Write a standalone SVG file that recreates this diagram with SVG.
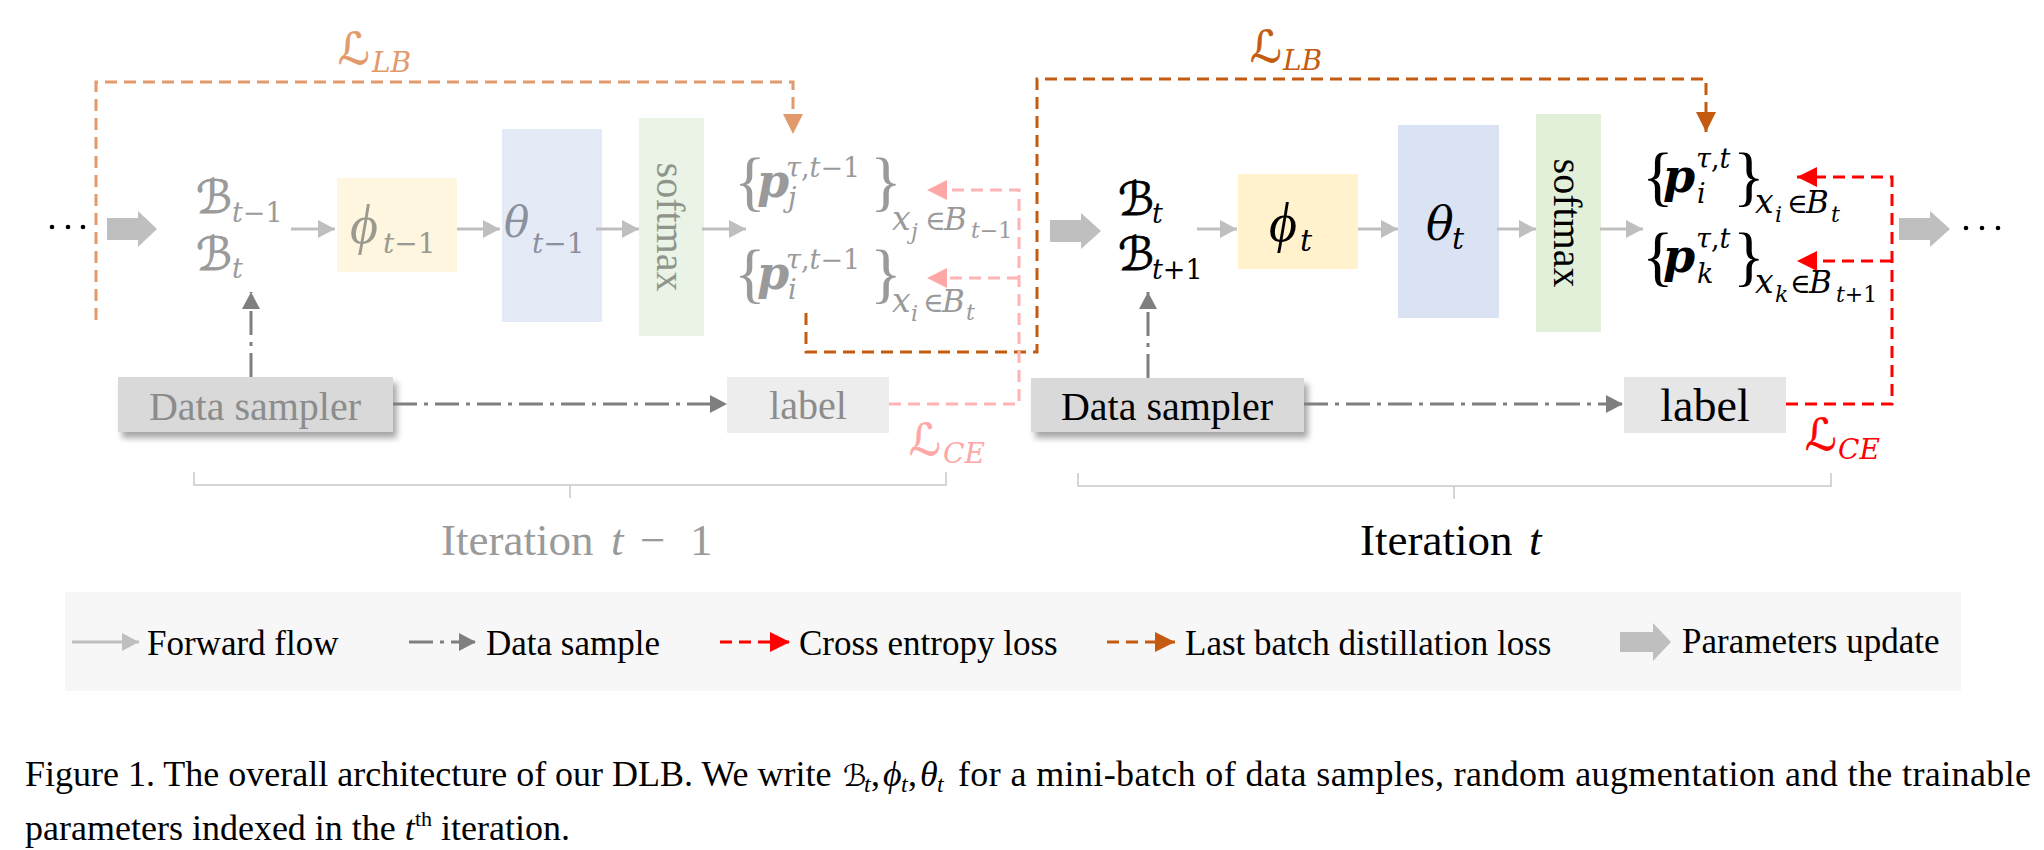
<svg xmlns="http://www.w3.org/2000/svg" width="2044" height="850" viewBox="0 0 2044 850">
<defs>
<style>
.t{font-family:"Liberation Serif","Times New Roman",serif}
.m{font-family:"DejaVu Serif","DejaVu Sans",serif;font-style:italic}
.ti{font-family:"Liberation Serif","Times New Roman",serif;font-style:italic}
.u{font-style:normal}
.br{font-family:"Liberation Serif","Times New Roman",serif;font-size:66px}
.sc{font-family:"DejaVu Sans","DejaVu Serif",sans-serif}
.fw{stroke:#BFBFBF;stroke-width:3;fill:none}
.ds{stroke:#7F7F7F;stroke-width:3;fill:none;stroke-dasharray:24 7 4 7}
.ce{stroke:#FF0000;stroke-width:3;fill:none;stroke-dasharray:12 7}
.ceL{stroke:#FFB3B3;stroke-width:3;fill:none;stroke-dasharray:12 7}
.lb{stroke:#C55A11;stroke-width:3;fill:none;stroke-dasharray:12 7}
.lbL{stroke:#E39A6B;stroke-width:3;fill:none;stroke-dasharray:12 7}
.big{fill:#BFBFBF}
.gr{fill:#9A9A9A}
.gb{fill:#8C8C8C}
.k{fill:#000}
</style>
<marker id="aFw" markerUnits="userSpaceOnUse" markerWidth="18" markerHeight="18" refX="17" refY="9" orient="auto"><path d="M0,0 L17,9 L0,18 Z" fill="#BFBFBF"/></marker>
<marker id="aDs" markerUnits="userSpaceOnUse" markerWidth="18" markerHeight="18" refX="17" refY="9" orient="auto"><path d="M0,0 L17,9 L0,18 Z" fill="#7F7F7F"/></marker>
<marker id="aCe" markerUnits="userSpaceOnUse" markerWidth="21" markerHeight="20" refX="20" refY="10" orient="auto"><path d="M0,0 L20,10 L0,20 Z" fill="#FF0000"/></marker>
<marker id="aCeL" markerUnits="userSpaceOnUse" markerWidth="21" markerHeight="20" refX="20" refY="10" orient="auto"><path d="M0,0 L20,10 L0,20 Z" fill="#FFA6A6"/></marker>
<marker id="aLb" markerUnits="userSpaceOnUse" markerWidth="21" markerHeight="20" refX="20" refY="10" orient="auto"><path d="M0,0 L20,10 L0,20 Z" fill="#C55A11"/></marker>
<marker id="aLbL" markerUnits="userSpaceOnUse" markerWidth="21" markerHeight="20" refX="20" refY="10" orient="auto"><path d="M0,0 L20,10 L0,20 Z" fill="#E39A6B"/></marker>
<filter id="sh" x="-10%" y="-30%" width="125%" height="180%"><feDropShadow dx="4" dy="6" stdDeviation="3" flood-color="#000" flood-opacity="0.35"/></filter>
</defs>
<rect width="2044" height="850" fill="#fff"/>

<!-- dots -->
<g id="dots-left"><circle cx="52" cy="227" r="2.3"/><circle cx="68" cy="227" r="2.3"/><circle cx="83" cy="227" r="2.3"/></g>
<g id="dots-right"><circle cx="1966" cy="228" r="2.3"/><circle cx="1982" cy="228" r="2.3"/><circle cx="1998" cy="228" r="2.3"/></g>

<!-- iteration t-1 (faded) -->
<g id="B-prev" class="gr">
<text class="sc" x="196" y="213" font-size="46" stroke="#9A9A9A" stroke-width="0.8">ℬ</text>
<text class="m" x="232" y="222" font-size="27">t<tspan class="u">−1</tspan></text>
<text class="sc" x="196" y="270" font-size="46" stroke="#9A9A9A" stroke-width="0.8">ℬ</text>
<text class="m" x="232" y="278" font-size="27">t</text>
</g>
<g id="phi-prev">
<rect x="337" y="178" width="120" height="94" fill="#FEF6DF"/>
<text class="ti" x="350" y="243" font-size="54" fill="#9A9A90">ϕ</text>
<text class="m" x="383" y="253" font-size="28" fill="#9A9A90">t<tspan class="u">−1</tspan></text>
</g>
<g id="theta-prev">
<rect x="502" y="129" width="100" height="193" fill="#E5EBF6"/>
<text class="m" x="504" y="237" font-size="42" fill="#8A909C">θ</text>
<text class="m" x="532" y="253" font-size="28" fill="#8A909C">t<tspan class="u">−1</tspan></text>
</g>
<g id="softmax-prev">
<rect x="639" y="118" width="65" height="218" fill="#EAF3E5"/>
<text class="t" transform="translate(671,227) rotate(90)" x="0" y="14" font-size="40" text-anchor="middle" fill="#8F958C">softmax</text>
</g>
<g id="p-prev" class="gr">
<text class="br" x="734" y="203">{</text>
<text class="m" x="757" y="197" font-size="46" font-weight="bold">p</text>
<text class="m" x="786" y="177" font-size="27">τ<tspan class="u">,</tspan>t<tspan class="u">−1</tspan></text>
<text class="m" x="788" y="207" font-size="27">j</text>
<text class="br" x="870" y="203">}</text>
<text class="m" x="892" y="230" font-size="33">x</text>
<text class="m" x="911" y="239" font-size="22">j</text>
<text class="m u" x="925" y="230" font-size="28">∈</text>
<text class="m" x="944" y="230" font-size="31">B</text>
<text class="m" x="971" y="238" font-size="22">t<tspan class="u">−1</tspan></text>

<text class="br" x="734" y="295">{</text>
<text class="m" x="757" y="289" font-size="46" font-weight="bold">p</text>
<text class="m" x="786" y="269" font-size="27">τ<tspan class="u">,</tspan>t<tspan class="u">−1</tspan></text>
<text class="m" x="788" y="299" font-size="27">i</text>
<text class="br" x="870" y="295">}</text>
<text class="m" x="892" y="312" font-size="33">x</text>
<text class="m" x="911" y="321" font-size="22">i</text>
<text class="m u" x="923" y="312" font-size="28">∈</text>
<text class="m" x="942" y="312" font-size="31">B</text>
<text class="m" x="966" y="320" font-size="22">t</text>
</g>
<g id="sampler-prev">
<rect x="118" y="377" width="275" height="55" fill="#D9D9D9" filter="url(#sh)"/>
<text class="t gb" x="255" y="420" font-size="40" text-anchor="middle">Data sampler</text>
</g>
<g id="label-prev">
<rect x="727" y="377" width="162" height="56" fill="#EDEDED"/>
<text class="t gb" x="808" y="419" font-size="40" text-anchor="middle">label</text>
</g>
<g id="LLB-prev" fill="#E39A6B">
<text class="sc" x="338" y="64" font-size="44" stroke="#E39A6B" stroke-width="0.6">ℒ</text>
<text class="m" x="372" y="72" font-size="28">LB</text>
</g>
<g id="LCE-prev" fill="#FFA6A6">
<text class="sc" x="909" y="455" font-size="44" stroke="#FFA6A6" stroke-width="0.6">ℒ</text>
<text class="m" x="943" y="463" font-size="28">CE</text>
</g>
<g id="iter-prev" fill="#9A9A9A">
<path d="M194,472 V485 H946 V472 M570,485 V498" stroke="#C8C8C8" stroke-width="1.5" fill="none"/>
<text class="t" x="441" y="555" font-size="45">Iteration</text>
<text class="ti" x="611" y="555" font-size="45">t</text>
<text class="t" x="640" y="555" font-size="45">−</text>
<text class="t" x="690" y="555" font-size="45">1</text>
</g>

<!-- iteration t -->
<g id="B-cur" class="k">
<text class="sc" x="1118" y="215" font-size="46" stroke="#000" stroke-width="0.8">ℬ</text>
<text class="m" x="1152" y="223" font-size="27">t</text>
<text class="sc" x="1118" y="270" font-size="46" stroke="#000" stroke-width="0.8">ℬ</text>
<text class="m" x="1152" y="279" font-size="27">t<tspan class="u">+1</tspan></text>
</g>
<g id="phi-cur">
<rect x="1238" y="174" width="120" height="95" fill="#FFF2CC"/>
<text class="ti" x="1269" y="241" font-size="54">ϕ</text>
<text class="m" x="1300" y="251" font-size="30">t</text>
</g>
<g id="theta-cur">
<rect x="1398" y="125" width="101" height="193" fill="#DAE3F3"/>
<text class="m" x="1426" y="240" font-size="46">θ</text>
<text class="m" x="1452" y="249" font-size="30">t</text>
</g>
<g id="softmax-cur">
<rect x="1536" y="114" width="65" height="218" fill="#E2F0D9"/>
<text class="t" transform="translate(1568,223) rotate(90)" x="0" y="14" font-size="40" text-anchor="middle">softmax</text>
</g>
<g id="p-cur" class="k">
<text class="br" x="1642" y="198">{</text>
<text class="m" x="1663" y="192" font-size="46" font-weight="bold">p</text>
<text class="m" x="1696" y="168" font-size="27">τ<tspan class="u">,</tspan>t</text>
<text class="m" x="1697" y="203" font-size="27">i</text>
<text class="br" x="1733" y="198">}</text>
<text class="m" x="1755" y="213" font-size="33">x</text>
<text class="m" x="1775" y="222" font-size="22">i</text>
<text class="m u" x="1787" y="213" font-size="28">∈</text>
<text class="m" x="1806" y="213" font-size="31">B</text>
<text class="m" x="1831" y="222" font-size="22">t</text>

<text class="br" x="1642" y="278">{</text>
<text class="m" x="1663" y="272" font-size="46" font-weight="bold">p</text>
<text class="m" x="1696" y="248" font-size="27">τ<tspan class="u">,</tspan>t</text>
<text class="m" x="1697" y="283" font-size="27">k</text>
<text class="br" x="1733" y="278">}</text>
<text class="m" x="1755" y="293" font-size="33">x</text>
<text class="m" x="1775" y="302" font-size="22">k</text>
<text class="m u" x="1790" y="293" font-size="28">∈</text>
<text class="m" x="1809" y="293" font-size="31">B</text>
<text class="m" x="1836" y="302" font-size="22">t<tspan class="u">+1</tspan></text>
</g>
<g id="sampler-cur">
<rect x="1031" y="378" width="273" height="54" fill="#D9D9D9" filter="url(#sh)"/>
<text class="t k" x="1167" y="420" font-size="40" text-anchor="middle">Data sampler</text>
</g>
<g id="label-cur">
<rect x="1624" y="377" width="162" height="56" fill="#E6E6E6"/>
<text class="t k" x="1705" y="421" font-size="46" text-anchor="middle">label</text>
</g>
<g id="LLB-cur" fill="#C55A11">
<text class="sc" x="1250" y="62" font-size="44" stroke="#C55A11" stroke-width="0.6">ℒ</text>
<text class="m" x="1283" y="70" font-size="28">LB</text>
</g>
<g id="LCE-cur" fill="#FF0000">
<text class="sc" x="1805" y="450" font-size="44" stroke="#FF0000" stroke-width="0.6">ℒ</text>
<text class="m" x="1838" y="459" font-size="28">CE</text>
</g>
<g id="iter-cur">
<path d="M1078,473 V486 H1831 V473 M1454,486 V499" stroke="#C8C8C8" stroke-width="1.5" fill="none"/>
<text class="t k" x="1360" y="555" font-size="45">Iteration</text>
<text class="ti k" x="1529" y="555" font-size="45">t</text>
</g>

<!-- connectors -->
<g id="connectors">
<path class="big" d="M107,218 H138 V211 L157,229 L138,247 V240 H107 Z"/>
<path class="big" d="M1050,220 H1081 V213 L1101,231 L1081,249 V242 H1050 Z"/>
<path class="big" d="M1899,218 H1930 V211 L1950,229 L1930,247 V240 H1899 Z"/>
<path class="fw" d="M291,229 H335" marker-end="url(#aFw)"/>
<path class="fw" d="M457,229 H500" marker-end="url(#aFw)"/>
<path class="fw" d="M596,229 H639" marker-end="url(#aFw)"/>
<path class="fw" d="M702,229 H746" marker-end="url(#aFw)"/>
<path class="fw" d="M1197,229 H1237" marker-end="url(#aFw)"/>
<path class="fw" d="M1358,229 H1398" marker-end="url(#aFw)"/>
<path class="fw" d="M1497,229 H1536" marker-end="url(#aFw)"/>
<path class="fw" d="M1600,229 H1643" marker-end="url(#aFw)"/>
<path class="ds" d="M393,404 H727" marker-end="url(#aDs)"/>
<path class="ds" d="M1304,404 H1623" marker-end="url(#aDs)"/>
<path class="ds" d="M251,377 V292" marker-end="url(#aDs)"/>
<path class="ds" d="M1148,378 V292" marker-end="url(#aDs)"/>
<path class="lbL" d="M96,320 V82 H793 V134" marker-end="url(#aLbL)"/>
<path class="lb" d="M806,313 V352 H1037 V79 H1706 V132" marker-end="url(#aLb)"/>
<path class="ceL" d="M889,404 H1019 V190 H927" marker-end="url(#aCeL)"/>
<path class="ceL" d="M1019,278 H927" marker-end="url(#aCeL)"/>
<path class="ce" d="M1786,404 H1892 V177 H1797" marker-end="url(#aCe)"/>
<path class="ce" d="M1892,261 H1797" marker-end="url(#aCe)"/>
</g>

<!-- legend -->
<g id="legend">
<rect x="65" y="592" width="1896" height="99" fill="#F7F7F7"/>
<path class="fw" d="M72,642 H139" marker-end="url(#aFw)"/>
<text class="t k" x="147" y="655" font-size="35">Forward flow</text>
<path class="ds" d="M409,642 H476" marker-end="url(#aDs)"/>
<text class="t k" x="486" y="655" font-size="35">Data sample</text>
<path class="ce" d="M720,642 H790" marker-end="url(#aCe)"/>
<text class="t k" x="799" y="655" font-size="35">Cross entropy loss</text>
<path class="lb" d="M1107,642 H1175" marker-end="url(#aLb)"/>
<text class="t k" x="1185" y="655" font-size="35">Last batch distillation loss</text>
<path class="big" d="M1620,632 H1653 V623 L1671,642 L1653,661 V652 H1620 Z"/>
<text class="t k" x="1682" y="653" font-size="35">Parameters update</text>
</g>

<!-- caption -->
<g id="caption" class="t k" font-size="36">
<text x="25" y="786">Figure 1. The overall architecture of our DLB. We write</text>
<text x="843" y="786" font-family="DejaVu Sans" font-size="30">ℬ</text>
<text x="864" y="792" font-style="italic" font-size="24">t</text>
<text x="871" y="786">,</text>
<text x="883" y="786" font-style="italic">ϕ</text>
<text x="901" y="792" font-style="italic" font-size="24">t</text>
<text x="908" y="786">,</text>
<text x="920" y="786" font-style="italic">θ</text>
<text x="937" y="792" font-style="italic" font-size="24">t</text>
<text x="958" y="786" textLength="1073" lengthAdjust="spacing">for a mini-batch of data samples, random augmentation and the trainable</text>
<text x="25" y="840">parameters indexed in the <tspan font-style="italic">t</tspan><tspan font-size="22" dy="-14">th</tspan><tspan dy="14"> iteration.</tspan></text>
</g>
</svg>
